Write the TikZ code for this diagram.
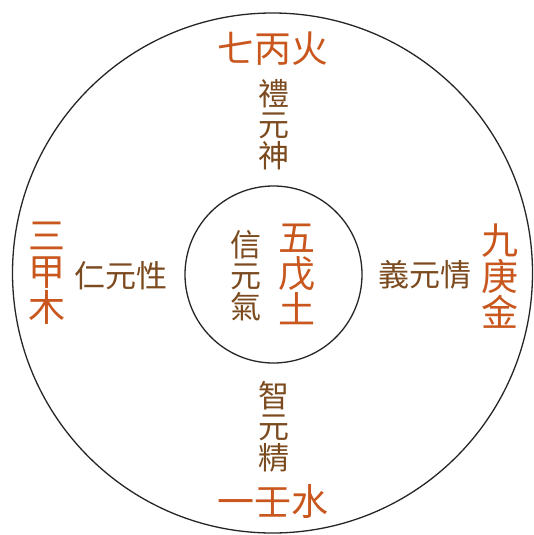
\documentclass[tikz,border=0pt]{standalone}
\usepackage{fontspec}
\newfontfamily\cjk{Noto Sans CJK TC}
\definecolor{fireorange}{HTML}{C9561D}
\definecolor{earthbrown}{HTML}{7B4A1E}
\begin{document}
\begin{tikzpicture}[x=1pt,y=-1pt,
  ring/.style={draw=black!85,line width=1.3pt},
  big/.style={inner sep=0pt,align=center,text=fireorange,font=\cjk\fontsize{37}{36}\selectfont},
  small/.style={inner sep=0pt,align=center,text=earthbrown,font=\cjk\fontsize{31}{31}\selectfont}]
\useasboundingbox (0,0) rectangle (534,535);
\fill[white] (0,0) rectangle (534,535);
\node[ring,circle,minimum size=520pt,inner sep=0pt] (outer) at (272.5,273) {};
\node[ring,circle,minimum size=177pt,inner sep=0pt] (inner) at (273.5,274.5) {};
\node[big] (fire) at (273,49) {七丙火};
\node[small] (li) at (274,125) {禮\\元\\神};
\node[small] (xin) at (246,276) {信\\元\\氣};
\node[big] (wu) at (297,274.5) {五\\戊\\土};
\node[big] (san) at (47,273) {三\\甲\\木};
\node[small] (ren) at (121,276) {仁元性};
\node[small] (yi) at (425,275) {義元情};
\node[big] (jiu) at (500,276) {九\\庚\\金};
\node[small] (zhi) at (274,427) {智\\元\\精};
\node[big] (shui) at (273,501) {一壬水};
\end{tikzpicture}
\end{document}
